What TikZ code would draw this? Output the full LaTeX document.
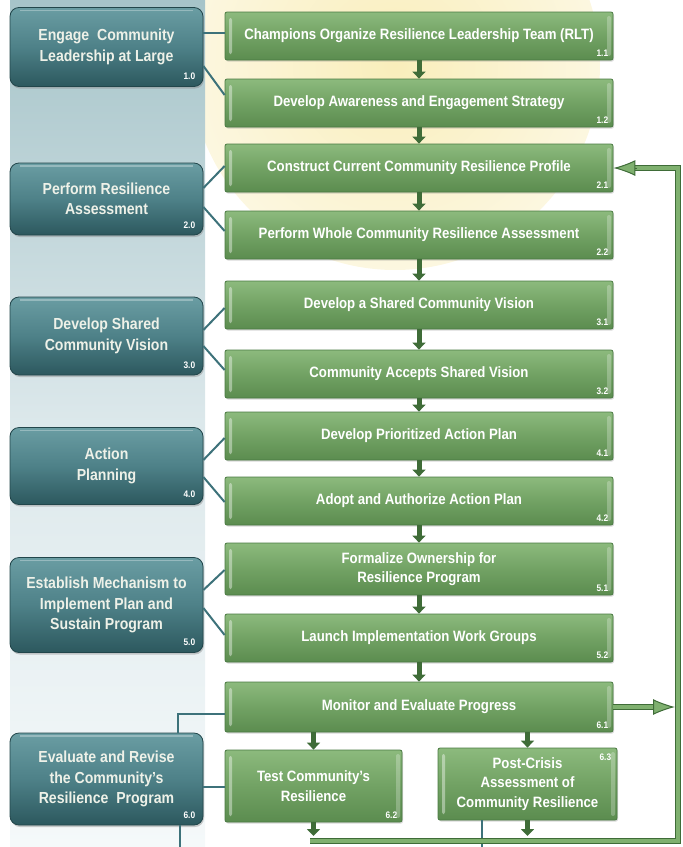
\documentclass[tikz,border=0pt]{standalone}
\usepackage{fontspec}
\setmainfont{Liberation Sans}[FakeStretch=0.88]
\usepackage{tikz}
\usetikzlibrary{calc,arrows.meta,shadows}

\definecolor{steptop}{HTML}{8CBA7D}
\definecolor{stepmid}{HTML}{72A264}
\definecolor{stepbot}{HTML}{5B8C4F}
\definecolor{stepedge}{HTML}{4A7A42}
\definecolor{phasetop}{HTML}{6A9DA3}
\definecolor{phasemid}{HTML}{4E8188}
\definecolor{phasebot}{HTML}{2C585E}
\definecolor{phaseedge}{HTML}{22464B}
\definecolor{phasetext}{HTML}{EEF1E8}
\definecolor{linkteal}{HTML}{3D727A}
\definecolor{flowgreen}{HTML}{3F6C38}
\definecolor{loopfill}{HTML}{7FB06F}
\definecolor{glow}{HTML}{F9EEBB}
\definecolor{glowedge}{HTML}{FCF7E0}
\definecolor{paneltop}{HTML}{A6C4C9}
\definecolor{panelmid}{HTML}{DCE8EB}
\definecolor{panelbot}{HTML}{F5F9FA}

\begin{document}
\begin{tikzpicture}[x=1pt,y=-1pt,
	stepbox/.style={draw=stepedge,line width=0.8pt,rounded corners=2pt,
		top color=steptop,bottom color=stepbot,middle color=stepmid,
		text=white,font=\fontsize{15}{19.5}\selectfont\bfseries,align=center,
		inner sep=0pt,minimum width=388pt,minimum height=48pt,
		drop shadow={shadow xshift=1pt,shadow yshift=-1.5pt,opacity=0.3},
		path picture={
			\fill[white,opacity=0.4] ([xshift=4pt,yshift=-6pt]path picture bounding box.north west) rectangle ([xshift=7pt,yshift=6pt]path picture bounding box.south west);
			\fill[white,opacity=0.25] ([xshift=-6pt,yshift=-4pt]path picture bounding box.north east) rectangle ([xshift=-2pt,yshift=4pt]path picture bounding box.south east);}},
	phasebox/.style={draw=phaseedge,line width=0.8pt,rounded corners=9pt,
		top color=phasetop,bottom color=phasebot,middle color=phasemid,
		text=phasetext,font=\fontsize{16}{20.5}\selectfont\bfseries,align=center,
		inner sep=0pt,minimum width=193pt,
		drop shadow={shadow xshift=1pt,shadow yshift=-2pt,opacity=0.4},
		path picture={
			\draw[white,opacity=0.3,line width=1.2pt] ([xshift=10pt,yshift=-3pt]path picture bounding box.north west) -- ([xshift=-10pt,yshift=-3pt]path picture bounding box.north east);}},
	num/.style={text=white,font=\fontsize{9.5}{10}\selectfont\bfseries,inner sep=0pt},
	link/.style={draw=linkteal,line width=2pt},
	flow/.style={draw=flowgreen,line width=5pt,-{Triangle[width=13pt,length=7pt]}},
	loop/.style={draw=flowgreen,line width=1.6pt,double=loopfill,double distance=3.4pt},
	looptip/.style={draw=flowgreen,line width=1pt,-{Latex[width=16pt,length=22pt,fill=loopfill]}}]
	\useasboundingbox (0,0) rectangle (683,847);

	\shade[inner color=glow,outer color=glowedge] (395,65) circle [radius=205];
	\shade[top color=paneltop,bottom color=panelbot,middle color=panelmid] (10,0) rectangle (205,847);

	\node[stepbox] (b11) at (419,36) {Champions Organize Resilience Leadership Team (RLT)};
	\node[stepbox] (b12) at (419,103) {Develop Awareness and Engagement Strategy};
	\node[stepbox] (b21) at (419,168) {Construct Current Community Resilience Profile};
	\node[stepbox] (b22) at (419,235) {Perform Whole Community Resilience Assessment};
	\node[stepbox] (b31) at (419,305) {Develop a Shared Community Vision};
	\node[stepbox] (b32) at (419,374) {Community Accepts Shared Vision};
	\node[stepbox] (b41) at (419,436) {Develop Prioritized Action Plan};
	\node[stepbox] (b42) at (419,501) {Adopt and Authorize Action Plan};
	\node[stepbox,minimum height=52pt] (b51) at (419,569) {Formalize Ownership for\\Resilience Program};
	\node[stepbox] (b52) at (419,638) {Launch Implementation Work Groups};
	\node[stepbox,minimum height=50pt] (b61) at (419,707) {Monitor and Evaluate Progress};
	\node[stepbox,minimum width=177pt,minimum height=72pt] (b62) at (313.5,786) {Test Community's\\Resilience};
	\node[stepbox,minimum width=179pt,minimum height=72pt] (b63) at (527.5,784) {Post-Crisis\\Assessment of\\Community Resilience};

	\node[phasebox,minimum height=79pt] (s10) at (106.5,47) {Engage\ \ Community\\Leadership at Large};
	\node[phasebox,minimum height=72pt] (s20) at (106.5,199) {Perform Resilience\\Assessment};
	\node[phasebox,minimum height=78pt] (s30) at (106.5,336) {Develop Shared\\Community Vision};
	\node[phasebox,minimum height=77pt] (s40) at (106.5,466) {Action\\Planning};
	\node[phasebox,minimum height=95pt] (s50) at (106.5,605) {Establish Mechanism to\\Implement Plan and\\Sustain Program};
	\node[phasebox,minimum height=92pt] (s60) at (106.5,779) {Evaluate and Revise\\the Community's\\Resilience\ \ Program};

	\foreach \n/\t in {b11/1.1,b12/1.2,b21/2.1,b22/2.2,b31/3.1,b32/3.2,b41/4.1,b42/4.2,b51/5.1,b52/5.2,b61/6.1,b62/6.2}
		\node[num,anchor=south east] at ([xshift=-5pt,yshift=4pt]\n.south east) {\t};
	\node[num,anchor=north east] at ([xshift=-6pt,yshift=-6pt]b63.north east) {6.3};
	\foreach \n/\t in {s10/1.0,s20/2.0,s30/3.0,s40/4.0,s50/5.0,s60/6.0}
		\node[num,anchor=south east] at ([xshift=-8pt,yshift=7pt]\n.south east) {\t};

	\draw[link] (s10.east |- 0,33) -- (b11.west |- 0,33);
	\draw[link] (s10.east |- 0,66) -- (b12.west |- 0,95);
	\draw[link] (s20.east |- 0,188) -- (b21.west |- 0,166);
	\draw[link] (s20.east |- 0,207) -- (b22.west |- 0,231);
	\draw[link] (s30.east |- 0,330) -- (b31.west |- 0,308);
	\draw[link] (s30.east |- 0,346) -- (b32.west |- 0,370);
	\draw[link] (s40.east |- 0,460) -- (b41.west |- 0,438);
	\draw[link] (s40.east |- 0,477) -- (b42.west |- 0,502);
	\draw[link] (s50.east |- 0,590) -- (b51.west |- 0,570);
	\draw[link] (s50.east |- 0,608) -- (b52.west |- 0,635);
	\draw[link] (s60.north -| 178,0) -- (178,714) -- (b61.west |- 0,714);
	\draw[link] (s60.east |- 0,787) -- (b62.west |- 0,787);
	\coordinate (out60) at (180,847);
	\coordinate (out63) at (482,847);
	\draw[link] (s60.south -| out60) -- (out60);
	\draw[link] (b63.south -| out63) -- (out63);

	\foreach \a/\b in {b11/b12,b12/b21,b21/b22,b22/b31,b31/b32,b32/b41,b41/b42,b42/b51,b51/b52,b52/b61}
		\draw[flow] (\a.south) -- (\b.north);
	\draw[flow] (b61.south -| b62.north) -- (b62.north);
	\draw[flow] (b61.south -| b63.north) -- (b63.north);

	\coordinate (loopleft) at (310,841);
	\coordinate (loopright) at (678,841);
	\draw[flow] (b62.south) -- (b62.south |- 0,836);
	\draw[flow] (b63.south) -- (b63.south |- 0,836);
	\draw[loop] (loopleft) -- (loopright) -- (loopright |- b21.east) -- ([xshift=20pt]b21.east);
	\draw[looptip] ([xshift=24pt]b21.east) -- (b21.east);
	\draw[loop] (b61.east) -- ([xshift=-20pt]loopright |- b61.east);
	\draw[looptip] ([xshift=-24pt]loopright |- b61.east) -- ([xshift=-3pt]loopright |- b61.east);
\end{tikzpicture}
\end{document}
